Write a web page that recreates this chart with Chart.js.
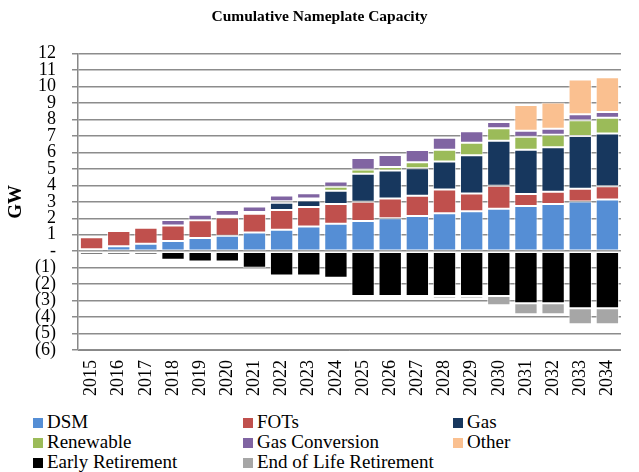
<!DOCTYPE html>
<html>
<head>
<meta charset="utf-8">
<script src="https://cdn.jsdelivr.net/npm/chart.js@4/dist/chart.umd.min.js"></script>
<style>
  body { margin: 0; background: #fff; font-family: 'Liberation Serif', serif; }
  #wrap { position: relative; width: 639px; height: 472px; }
  #box { position: absolute; left: 0; top: 0; width: 639px; height: 408px; }
  #legend { position: absolute; left: 0; top: 412px; width: 639px; }
  .item { position: absolute; font-size: 19px; line-height: 20px; white-space: nowrap; color: #000; }
  .sw { display: inline-block; width: 10px; height: 10px; margin-right: 4px; vertical-align: 0px; }
</style>
</head>
<body>
<div id="wrap">
  <div id="box"><canvas id="chart"></canvas></div>
  <div id="legend"></div>
</div>
<script>
var years = ['2015','2016','2017','2018','2019','2020','2021','2022','2023','2024',
             '2025','2026','2027','2028','2029','2030','2031','2032','2033','2034'];

var dsm       = [0.12, 0.30, 0.46, 0.62, 0.80, 0.94, 1.14, 1.30, 1.50, 1.67, 1.84, 2.00, 2.14, 2.30, 2.42, 2.58, 2.74, 2.86, 3.02, 3.14];
var fots      = [0.72, 0.92, 0.96, 0.94, 1.08, 1.10, 1.14, 1.20, 1.18, 1.20, 1.16, 1.20, 1.23, 1.45, 1.08, 1.39, 0.73, 0.75, 0.77, 0.81];
var gas       = [0, 0, 0, 0, 0, 0, 0, 0.44, 0.40, 0.80, 1.71, 1.70, 1.67, 1.69, 2.32, 2.74, 2.69, 2.70, 3.20, 3.20];
var renewable = [0, 0, 0, 0, 0, 0.12, 0.10, 0.10, 0.12, 0.24, 0.25, 0.22, 0.36, 0.72, 0.77, 0.75, 0.79, 0.76, 0.97, 0.95];
var gasConv   = [0, 0, 0, 0.34, 0.34, 0.34, 0.34, 0.34, 0.32, 0.32, 0.70, 0.72, 0.75, 0.73, 0.70, 0.38, 0.36, 0.36, 0.36, 0.36];
var other     = [0, 0, 0, 0, 0, 0, 0, 0, 0, 0, 0, 0, 0, 0, 0, 0, 1.57, 1.60, 2.10, 2.11];
var earlyRet  = [-0.20, -0.20, -0.20, -0.52, -0.62, -0.62, -1.00, -1.47, -1.47, -1.61, -2.72, -2.72, -2.72, -2.72, -2.72, -2.72, -3.16, -3.16, -3.46, -3.46];
var eolRet    = [0, 0, 0, 0, 0, 0, 0, 0, 0, 0, 0, 0, 0, -0.16, -0.16, -0.56, -0.67, -0.67, -0.97, -0.97];

var serif = "'Liberation Serif', serif";

function makeSet(label, data, color) {
    return {
        label: label,
        data: data,
        backgroundColor: color,
        borderColor: 'rgba(255,255,255,0.7)',
        borderWidth: 1,
        borderSkipped: false,
        barPercentage: 0.86,
        categoryPercentage: 1.0
    };
}

var datasets = [
    makeSet('DSM', dsm, '#558ed5'),
    makeSet('FOTs', fots, '#c0504d'),
    makeSet('Gas', gas, '#17375e'),
    makeSet('Renewable', renewable, '#9bbb59'),
    makeSet('Gas Conversion', gasConv, '#8064a2'),
    makeSet('Other', other, '#fac090'),
    makeSet('Early Retirement', earlyRet, '#000000'),
    makeSet('End of Life Retirement', eolRet, '#a6a6a6')
];

var chart = new Chart(document.getElementById('chart'), {
    type: 'bar',
    data: { labels: years, datasets: datasets },
    options: {
        responsive: true,
        maintainAspectRatio: false,
        animation: false,
        layout: { padding: { top: 0, right: 0, left: 0, bottom: 0 } },
        plugins: {
            legend: { display: false },
            tooltip: { enabled: false },
            title: {
                display: true,
                text: 'Cumulative Nameplate Capacity',
                color: '#000',
                font: { family: serif, size: 15.5, weight: 'bold' },
                padding: { top: 8, bottom: 27 }
            }
        },
        scales: {
            x: {
                stacked: true,
                grid: { display: false, drawTicks: false },
                border: { color: '#888', width: 1 },
                afterFit: function (scale) { scale.height = 58; },
                ticks: {
                    color: '#000',
                    font: { family: serif, size: 18 },
                    minRotation: 90,
                    maxRotation: 90,
                    autoSkip: false,
                    padding: 10
                }
            },
            y: {
                stacked: true,
                min: -6,
                max: 12,
                grid: { color: '#8c8c8c', lineWidth: 1.5, tickLength: 6 },
                border: { color: '#888', width: 1.5 },
                afterFit: function (scale) { scale.width = 78; },
                title: {
                    display: true,
                    text: 'GW',
                    color: '#000',
                    font: { family: serif, size: 19, weight: 'bold' },
                    padding: { top: 5, bottom: 0 }
                },
                ticks: {
                    stepSize: 1,
                    autoSkip: false,
                    color: '#000',
                    padding: 16,
                    font: { family: serif, size: 18, lineHeight: 1 },
                    callback: function (v) {
                        if (v === 0) return '-';
                        if (v < 0) return '(' + (-v) + ')';
                        return String(v);
                    }
                }
            }
        }
    }
});

// legend laid out as 3 fixed columns like the original
var legendEl = document.getElementById('legend');
var colX = [33, 243, 453];
datasets.forEach(function (ds, i) {
    var item = document.createElement('div');
    item.className = 'item';
    item.style.left = colX[i % 3] + 'px';
    item.style.top = (Math.floor(i / 3) * 20) + 'px';
    item.innerHTML = '<span class="sw" style="background:' + ds.backgroundColor + '"></span>' + ds.label;
    legendEl.appendChild(item);
});
</script>
</body>
</html>
